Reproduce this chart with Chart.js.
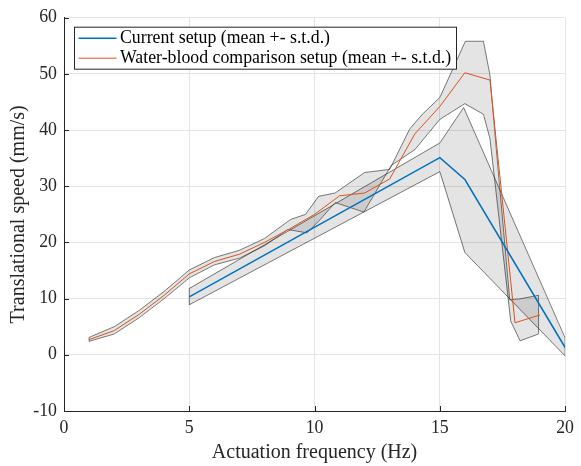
<!DOCTYPE html>
<html><head><meta charset="utf-8">
<script src="https://cdn.jsdelivr.net/npm/chart.js@4"></script>
<style>html,body{margin:0;padding:0;background:#fff}#wrap{width:581px;height:466px;position:relative}</style>
</head><body><div id="wrap"><canvas id="c" width="581" height="466"></canvas></div>
<script>
// ---- data ----
const seriesNames = ['Current setup (mean +- s.t.d.)', 'Water-blood comparison setup (mean +- s.t.d.)'];
const xTitle = 'Actuation frequency (Hz)';
const yTitle = 'Translational speed (mm/s)';
const xTicks = [0, 5, 10, 15, 20];
const yTicks = [-10, 0, 10, 20, 30, 40, 50, 60];

// Current setup
const currentFreq = [5, 15, 16, 20];
const currentMean = [10.3, 35.1, 31.2, 1.3];
const currentUpperFreq = [5, 15, 15.95, 20];
const currentUpper = [11.8, 37.7, 44.0, 3.0];
const currentLowerFreq = [5, 15, 16, 20];
const currentLower = [8.9, 32.6, 18.2, -0.2];

// Water-blood comparison setup
const waterFreq = [1, 2, 3, 4, 5, 6, 7, 8, 9, 10, 11, 12, 13, 14, 15, 16, 17, 18, 19];
const waterMean = [2.7, 4.3, 7.2, 10.6, 14.4, 16.6, 17.9, 20.0, 22.4, 25.0, 28.3, 28.8, 31.3, 39.3, 44.2, 50.2, 48.9, 5.7, 7.1];
const waterUpperFreq = [1, 2, 3, 4, 5, 6, 7, 8, 9.05, 9.64, 10.16, 10.82, 12.0, 13.0, 13.8, 14.3, 15.0, 16.02, 16.74, 17.0, 17.2, 17.79, 18.2, 18.94];
const waterUpper = [3.1, 5.0, 7.9, 11.3, 15.1, 17.3, 18.6, 20.7, 24.1, 25.0, 28.2, 28.8, 32.45, 33.0, 40.2, 42.8, 45.8, 55.8, 55.8, 49.8, 39.3, 9.8, 9.95, 10.6];
const waterLowerFreq = [1, 2, 3, 4, 5, 6, 7, 8, 8.93, 9.7, 10.23, 10.82, 11.97, 13.06, 14.0, 15.0, 16.0, 16.74, 17.0, 17.83, 18.2, 18.94];
const waterLower = [2.4, 3.7, 6.6, 10.0, 13.7, 16.0, 17.2, 19.4, 22.3, 21.7, 24.1, 27.1, 25.4, 33.7, 36.5, 41.9, 44.7, 42.8, 38.5, 6.0, 2.5, 3.7];

// ---- build chart data from arrays ----
const pts = (xs, ys) => xs.map((x, i) => ({x, y: ys[i]}));
function band(uxs, uys, lxs, lys) {
  const up = pts(uxs, uys);
  const lo = pts(lxs, lys).reverse();
  const poly = up.concat(lo);
  poly.push({...up[0]});
  return poly;
}

const BLUE = '#0072BD', ORANGE = '#D95319';
const AX = '#262626';
const FONT = "'Liberation Serif', 'Times New Roman', serif";

const bandStyle = {
  showLine: true, pointRadius: 0, pointHoverRadius: 0, tension: 0.00001,
  borderColor: 'rgba(30,30,30,0.75)', borderWidth: 0.8,
  backgroundColor: 'rgba(0,0,0,0.105)', fill: 'shape'
};

const datasets = [
  {label: seriesNames[0], data: pts(currentFreq, currentMean), showLine: true, pointRadius: 0,
   borderColor: BLUE, borderWidth: 1.5, fill: false},
  {label: seriesNames[1], data: pts(waterFreq, waterMean), showLine: true, pointRadius: 0,
   borderColor: ORANGE, borderWidth: 1, fill: false},
  Object.assign({label: 'water band', data: band(waterUpperFreq, waterUpper, waterLowerFreq, waterLower)}, bandStyle),
  Object.assign({label: 'current band', data: band(currentUpperFreq, currentUpper, currentLowerFreq, currentLower)}, bandStyle)
];

const extras = {
  id: 'extras',
  afterDraw(chart) {
    const {ctx, chartArea: a, scales: {x, y}} = chart;
    ctx.save();
    // inward tick marks
    ctx.strokeStyle = AX; ctx.lineWidth = 1;
    ctx.beginPath();
    xTicks.forEach(v => { const px = Math.round(x.getPixelForValue(v)) + 0.5; ctx.moveTo(px, a.bottom); ctx.lineTo(px, a.bottom - 5); });
    yTicks.forEach(v => { const py = Math.round(y.getPixelForValue(v)) + 0.5; ctx.moveTo(a.left, py); ctx.lineTo(a.left + 5, py); });
    ctx.stroke();
    // legend box
    const fs = 17.8;
    ctx.font = fs + 'px ' + FONT;
    const colors = [BLUE, ORANGE];
    const widths = [1.5, 1];
    const bx = a.left + 10.5, by = a.top + 9.5;
    const lineX0 = bx + 4, lineX1 = bx + 42, textX = bx + 45.5;
    const tw = Math.max(...seriesNames.map(s => ctx.measureText(s).width));
    const bw = Math.round(textX - bx + tw + 5), bh = 42;
    ctx.fillStyle = '#fff';
    ctx.fillRect(bx, by, bw, bh);
    ctx.strokeStyle = AX; ctx.lineWidth = 1;
    ctx.strokeRect(bx, by, bw, bh);
    seriesNames.forEach((s, i) => {
      const ly = by + 11 + i * 20;
      ctx.strokeStyle = colors[i]; ctx.lineWidth = widths[i];
      ctx.beginPath(); ctx.moveTo(lineX0, ly); ctx.lineTo(lineX1, ly); ctx.stroke();
      ctx.fillStyle = '#000'; ctx.textBaseline = 'middle'; ctx.textAlign = 'left';
      ctx.fillText(s, textX, ly + 0.5);
    });
    ctx.restore();
  }
};

new Chart(document.getElementById('c'), {
  type: 'scatter',
  data: {datasets},
  options: {
    responsive: false, animation: false, devicePixelRatio: 1,
    layout: {padding: {top: 12, right: 10, left: 0, bottom: 0}},
    plugins: {legend: {display: false}, tooltip: {enabled: false}},
    scales: {
      x: {
        type: 'linear', min: 0, max: 20,
        afterBuildTicks: s => { s.ticks = xTicks.map(v => ({value: v})); },
        afterFit: s => { s.height = 55; },
        ticks: {font: {family: FONT, size: 17.8}, color: AX, padding: 7, maxRotation: 0},
        grid: {color: '#e4e4e4', drawTicks: false, lineWidth: 1},
        border: {color: AX, width: 1},
        title: {display: true, text: xTitle, font: {family: FONT, size: 20}, color: AX, padding: {top: 0, bottom: 1}}
      },
      y: {
        type: 'linear', min: -10, max: 60,
        afterBuildTicks: s => { s.ticks = yTicks.map(v => ({value: v})); },
        afterFit: s => { s.width = 64; },
        ticks: {font: {family: FONT, size: 17.8}, color: AX, padding: 7},
        grid: {color: '#e4e4e4', drawTicks: false, lineWidth: 1},
        border: {color: AX, width: 1},
        title: {display: true, text: yTitle, font: {family: FONT, size: 20}, color: AX, padding: {top: 6.5, bottom: 0}}
      }
    }
  },
  plugins: [extras]
});
</script></body></html>
